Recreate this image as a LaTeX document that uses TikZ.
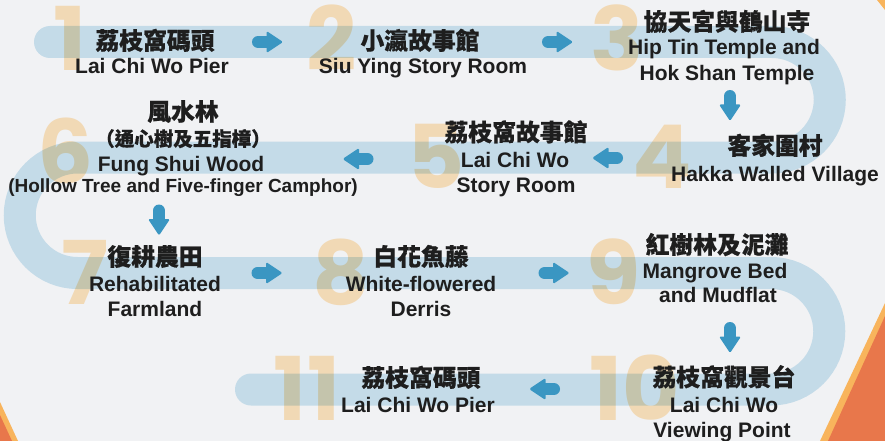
\documentclass[tikz,border=0pt]{standalone}
\usepackage{fontspec}
\setmainfont{Liberation Sans}
\newfontfamily\cjk{Noto Sans CJK TC}[BoldFeatures={FakeBold=0.6}]
\newfontfamily\numfont{Poppins}
\definecolor{bgc}{HTML}{F1F2F4}
\definecolor{band}{HTML}{C4DBE8}
\definecolor{arrowblue}{HTML}{3A96C2}
\definecolor{numc}{HTML}{FFE5BE}
\definecolor{txt}{HTML}{1E1E1E}
\definecolor{corner}{HTML}{E8774B}
\definecolor{cornerrim}{HTML}{F8B45C}
\tikzset{
  cn/.style={anchor=base, inner sep=0pt, text=txt, font=\cjk\bfseries\fontsize{23.8}{24}\selectfont},
  cnsmall/.style={anchor=base, inner sep=0pt, text=txt, font=\cjk\bfseries\fontsize{19.5}{20}\selectfont},
  en/.style={anchor=base, inner sep=0pt, text=txt, font=\bfseries\fontsize{21}{21}\selectfont},
  ensmall/.style={anchor=base, inner sep=0pt, text=txt, font=\bfseries\fontsize{19}{19}\selectfont},
  bignum/.style={anchor=base, inner sep=0pt, text=numc, font=\numfont\bfseries\fontsize{88}{88}\selectfont},
  flowarrow/.pic={
    \fill[arrowblue, rounded corners=1.5pt] (-1,-11) -- (15.5,0) -- (-1,11) -- cycle;
    \draw[arrowblue, line width=12.5pt, line cap=round] (-9.25,0) -- (0,0);
  }
}
\begin{document}
\begin{tikzpicture}[x=1pt,y=-1pt]
\fill[bgc] (0,0) rectangle (885,441);
\useasboundingbox (0,0) rectangle (885,441);
% corners
\fill[cornerrim] (877,0) -- (885,0) -- (885,10) -- cycle;
\fill[cornerrim] (820,441) -- (885,303) -- (885,441) -- cycle;
\fill[corner] (828,441) -- (885,316) -- (885,441) -- cycle;
\fill[cornerrim] (0,402) -- (18,441) -- (0,441) -- cycle;
\fill[corner] (0,415) -- (12,441) -- (0,441) -- cycle;
% track
\draw[band, line width=32pt, line cap=round]
  (50,42) -- (772,42) arc[start angle=-90, end angle=90, radius=57.75]
  -- (77.5,157.5) arc[start angle=-90, end angle=-270, radius=57.75]
  -- (771,273) arc[start angle=-90, end angle=90, radius=58.25]
  -- (251,389.5);
% numbers
\begin{scope}[blend mode=multiply]
\node[bignum] (n1) at (70,71) {1};
\node[bignum] (n2) at (332,70.5) {2};
\node[bignum] (n3) at (617,70.5) {3};
\node[bignum] (n4) at (662,188.5) {4};
\node[bignum] (n5) at (436,188.5) {5};
\node[bignum] (n6) at (66,183.5) {6};
\node[bignum] (n7) at (85,304.5) {7};
\node[bignum] (n8) at (341,304.5) {8};
\node[bignum] (n9) at (614,304.5) {9};
\node[bignum] (n10) at (635,420) {10};
\node[bignum] (n11) at (307,420) {11};
\end{scope}
% arrows
\pic at (267.5,42) {flowarrow};
\pic at (557.5,42) {flowarrow};
\pic[rotate=-90] at (730,105.5) {flowarrow};
\pic[rotate=180] at (607.5,158) {flowarrow};
\pic[rotate=180] at (358,159) {flowarrow};
\pic[rotate=-90] at (159,220) {flowarrow};
\pic at (267,273) {flowarrow};
\pic at (554,273) {flowarrow};
\pic[rotate=-90] at (730,337.5) {flowarrow};
\pic[rotate=180] at (544.5,389) {flowarrow};
% station texts
\node[cn] (t1c) at (155,49.5) {荔枝窩碼頭};
\node[en] (t1e) at (152,74) {Lai Chi Wo Pier};
\node[cn] (t2c) at (420,49.5) {小瀛故事館};
\node[en] (t2e) at (423,74) {Siu Ying Story Room};
\node[cn] (t3c) at (727,30.5) {協天宮與鶴山寺};
\node[en] (t3e) at (724,55) {Hip Tin Temple and};
\node[en] (t3f) at (727,81) {Hok Shan Temple};
\node[cn] (t4c) at (775,154.5) {客家圍村};
\node[en] (t4e) at (775,181) {Hakka Walled Village};
\node[cn] (t5c) at (516,141) {荔枝窩故事館};
\node[en] (t5e) at (515,167) {Lai Chi Wo};
\node[en] (t5f) at (516,192) {Story Room};
\node[cn] (t6c) at (183,120.5) {風水林};
\node[cnsmall] (t6d) at (183,146) {（通心樹及五指樟）};
\node[en] (t6e) at (181,171) {Fung Shui Wood};
\node[ensmall] (t6f) at (183,192) {(Hollow Tree and Five-finger Camphor)};
\node[cn] (t7c) at (155,265.5) {復耕農田};
\node[en] (t7e) at (155,291) {Rehabilitated};
\node[en] (t7f) at (155,316.5) {Farmland};
\node[cn] (t8c) at (421,265.5) {白花魚藤};
\node[en] (t8e) at (421,291) {White-flowered};
\node[en] (t8f) at (421,316.5) {Derris};
\node[cn] (t9c) at (717,253.5) {紅樹林及泥灘};
\node[en] (t9e) at (715,278) {Mangrove Bed};
\node[en] (t9f) at (718,302) {and Mudflat};
\node[cn] (t10c) at (724,386) {荔枝窩觀景台};
\node[en] (t10e) at (724,412) {Lai Chi Wo};
\node[en] (t10f) at (722,437) {Viewing Point};
\node[cn] (t11c) at (421,386.5) {荔枝窩碼頭};
\node[en] (t11e) at (418,412) {Lai Chi Wo Pier};
\end{tikzpicture}
\end{document}
